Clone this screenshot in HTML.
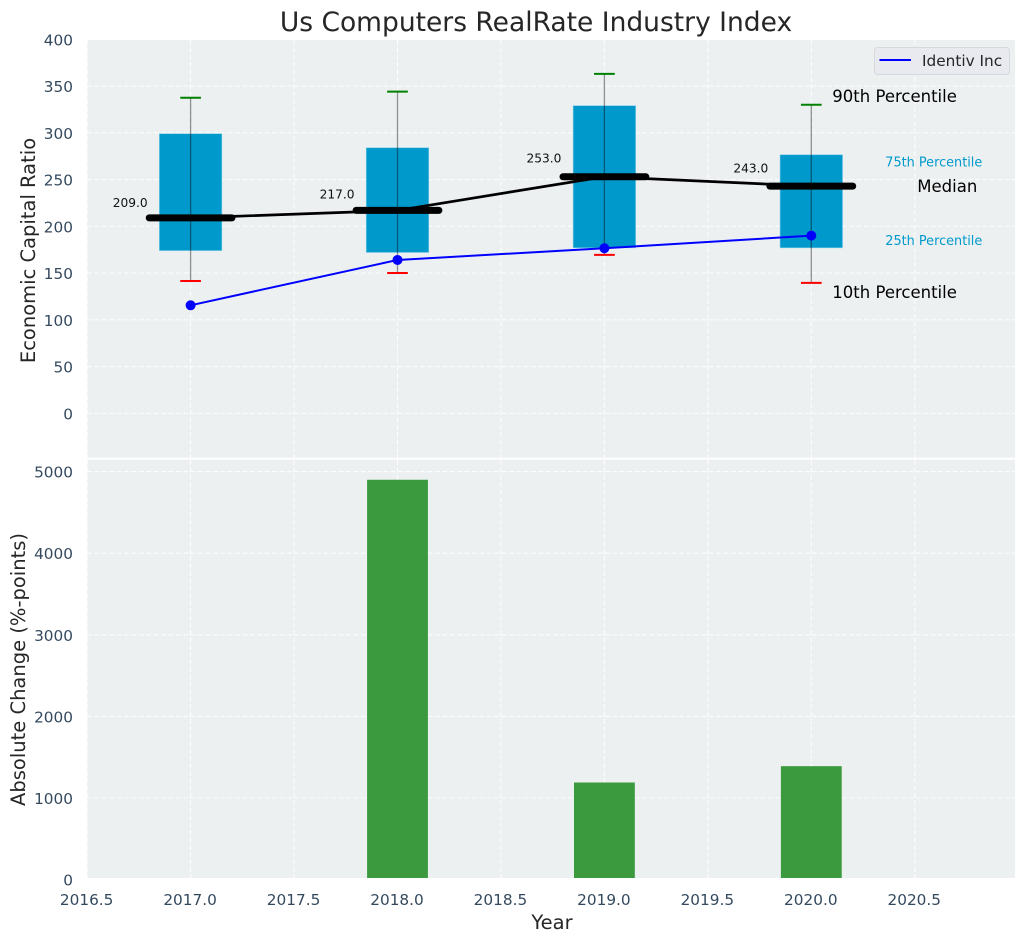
<!DOCTYPE html>
<html lang="en">
<head>
<meta charset="utf-8">
<title>Us Computers RealRate Industry Index</title>
<style>
html,body{margin:0;padding:0;background:#fff;}
svg{display:block;font-family:"DejaVu Sans","Liberation Sans",sans-serif;}
</style>
</head>
<body>
<svg id="chart" width="1026" height="942" viewBox="0 0 1026 942" xmlns="http://www.w3.org/2000/svg">
<defs>
<clipPath id="clip-top"><rect x="87" y="40" width="928" height="417.7"/></clipPath>
<clipPath id="clip-bottom"><rect x="87" y="459.7" width="928" height="418.3"/></clipPath>
</defs>
</svg>
<script>
const years = [2017, 2018, 2019, 2020];
const p90 = [337.5, 344, 363, 330];
const p75 = [299, 284, 329, 276.5];
const medians = [209, 217, 253, 243];
const p25 = [174, 172, 177, 177];
const p10 = [141.5, 150, 169.5, 139.5];
const company = [115.5, 164, 176.5, 190];
const changes = [null, 4900, 1190, 1390];
const xTicks = [2016.5, 2017, 2017.5, 2018, 2018.5, 2019, 2019.5, 2020, 2020.5];
const yTopTicks = [0, 50, 100, 150, 200, 250, 300, 350, 400];
const yBottomTicks = [0, 1000, 2000, 3000, 4000, 5000];

const svg = document.getElementById('chart');
const NS = 'http://www.w3.org/2000/svg';
function x(v) { return 190.6 + (v - 2017) * 206.9; }
function yTop(v) { return 413.3 - v * 0.935; }
function yBottom(v) { return 879.6 - v * 0.0816; }
function make(tag, attrs, parent, txt) {
  const e = document.createElementNS(NS, tag);
  for (const k in attrs) e.setAttribute(k, attrs[k]);
  if (txt !== undefined) e.textContent = txt;
  (parent || svg).appendChild(e);
  return e;
}
let el;

el = make('rect', {x: 87, y: 40, width: 928, height: 417.7, fill: '#ecf0f1'});


el = make('rect', {x: 87, y: 459.7, width: 928, height: 418.3, fill: '#ecf0f1'});



const grid = {stroke: '#ffffff', 'stroke-width': 1.1, 'stroke-dasharray': '5 2.4', opacity: 0.85};
const topLayer = make('g', {'clip-path': 'url(#clip-top)'});


const bottomLayer = make('g', {'clip-path': 'url(#clip-bottom)'});



xTicks.forEach(function (t) {
  let g = make('line', Object.assign({x1: x(t), x2: x(t), y1: 40, y2: 458}, grid), topLayer);
  
  
  g = make('line', Object.assign({x1: x(t), x2: x(t), y1: 460, y2: 878}, grid), bottomLayer);
  
  
  const label = make('text', {x: x(t) - 0.5, y: 905, 'text-anchor': 'middle', 'font-size': 15.3, fill: '#34495e'}, svg, t.toFixed(1));
  
  
});
yTopTicks.forEach(function (t) {
  const g = make('line', Object.assign({x1: 87, x2: 1015, y1: yTop(t), y2: yTop(t)}, grid), topLayer);
  
  
  const label = make('text', {x: 73, y: yTop(t) + 6, 'text-anchor': 'end', 'font-size': 15.3, fill: '#34495e'}, svg, String(t));
  
  
});
yBottomTicks.forEach(function (t) {
  const g = make('line', Object.assign({x1: 87, x2: 1015, y1: yBottom(t), y2: yBottom(t)}, grid), bottomLayer);
  
  
  const label = make('text', {x: 73, y: yBottom(t) + 6, 'text-anchor': 'end', 'font-size': 15.3, fill: '#34495e'}, svg, String(t));
  
  
});

/* bottom bars */
years.forEach(function (yr, i) {
  if (changes[i] === null) return;
  const b = make('rect', {x: x(yr - 0.147), y: yBottom(changes[i]), width: x(yr + 0.147) - x(yr - 0.147), height: yBottom(0) - yBottom(changes[i]), fill: '#2c932f', 'fill-opacity': 0.92}, bottomLayer);
  
  
});

/* boxes */
years.forEach(function (yr, i) {
  const b = make('rect', {x: x(yr - 0.151), y: yTop(p75[i]), width: x(yr + 0.151) - x(yr - 0.151), height: yTop(p25[i]) - yTop(p75[i]), fill: '#0099cc', stroke: '#7fcce6', 'stroke-width': 0.6}, topLayer);
  
  
});

/* median trend line */
const medianLine = make('polyline', {points: years.map(function (yr, i) { return x(yr) + ',' + yTop(medians[i]); }).join(' '), fill: 'none', stroke: '#000', 'stroke-width': 2.7}, topLayer);



/* company line */
const companyLine = make('polyline', {points: years.map(function (yr, i) { return x(yr) + ',' + yTop(company[i]); }).join(' '), fill: 'none', stroke: '#0000ff', 'stroke-width': 2}, topLayer);



years.forEach(function (yr, i) {
  const w = make('line', {x1: x(yr), x2: x(yr), y1: yTop(p90[i]), y2: yTop(p10[i]), stroke: '#000', 'stroke-opacity': 0.42, 'stroke-width': 1.3}, topLayer);
  
  
  const hi = make('line', {x1: x(yr - 0.05), x2: x(yr + 0.05), y1: yTop(p90[i]), y2: yTop(p90[i]), stroke: '#008000', 'stroke-width': 2}, topLayer);
  
  
  const lo = make('line', {x1: x(yr - 0.05), x2: x(yr + 0.05), y1: yTop(p10[i]), y2: yTop(p10[i]), stroke: '#ff0000', 'stroke-width': 2}, topLayer);
  
  
  const m = make('line', {x1: x(yr - 0.2), x2: x(yr + 0.2), y1: yTop(medians[i]), y2: yTop(medians[i]), stroke: '#000', 'stroke-width': 7, 'stroke-linecap': 'round'}, topLayer);
  
  
  const d = make('circle', {cx: x(yr), cy: yTop(company[i]), r: 5, fill: '#0000ff'}, topLayer);
  
  
  const t = make('text', {x: x(yr) - 43, y: yTop(medians[i] * 1.08) + 4.5, 'text-anchor': 'end', 'font-size': 12.2, fill: '#111'}, topLayer, medians[i].toFixed(1));
  
  
});

/* percentile annotations, anchored to the last year */
const last = years.length - 1;
const lastX = x(years[last]);
let note;
note = make('text', {x: lastX + 21, y: yTop(p90[last]) - 3, 'font-size': 16.5, fill: '#000'}, svg, '90th Percentile');


note = make('text', {x: lastX + 74, y: yTop(p75[last]) + 11.5, 'font-size': 12.85, fill: '#0099cc'}, svg, '75th Percentile');


note = make('text', {x: lastX + 106, y: yTop(medians[last]) + 6, 'font-size': 16.5, fill: '#000'}, svg, 'Median');


note = make('text', {x: lastX + 74, y: yTop(p25[last]) - 3, 'font-size': 12.85, fill: '#0099cc'}, svg, '25th Percentile');


note = make('text', {x: lastX + 21, y: yTop(p10[last]) + 15, 'font-size': 16.5, fill: '#000'}, svg, '10th Percentile');



/* legend */
const legend = make('g', {});


el = make('rect', {x: 874.5, y: 47.5, width: 135, height: 27, rx: 3, fill: '#e8eaf0', stroke: '#d5d8dc', 'stroke-width': 1}, legend);


el = make('line', {x1: 879.5, x2: 911, y1: 60, y2: 60, stroke: '#0000ff', 'stroke-width': 2}, legend);


el = make('text', {x: 922, y: 66, 'font-size': 15.3, fill: '#262626'}, legend, 'Identiv Inc');



/* titles */
el = make('text', {x: 536, y: 31, 'text-anchor': 'middle', 'font-size': 26.5, fill: '#262626'}, svg, 'Us Computers RealRate Industry Index');


el = make('text', {x: 552, y: 929, 'text-anchor': 'middle', 'font-size': 19.5, fill: '#262626'}, svg, 'Year');


el = make('text', {transform: 'translate(35 250.5) rotate(-90)', 'text-anchor': 'middle', 'font-size': 19.5, fill: '#262626'}, svg, 'Economic Capital Ratio');


el = make('text', {transform: 'translate(25 669.5) rotate(-90)', 'text-anchor': 'middle', 'font-size': 19.5, fill: '#262626'}, svg, 'Absolute Change (%-points)');


</script>
</body>
</html>
